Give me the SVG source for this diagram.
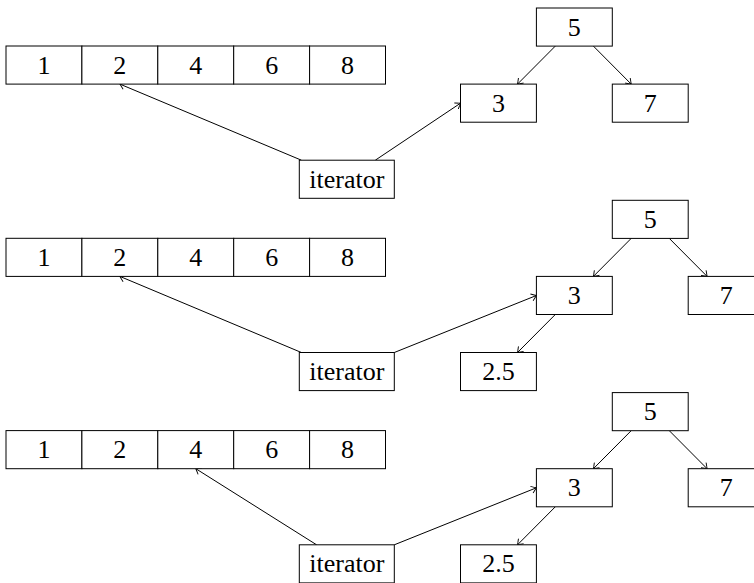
<svg xmlns="http://www.w3.org/2000/svg" width="754" height="583" viewBox="0 0 754 583">
  <style>
    .box { fill: #fff; stroke: #000; stroke-width: 1; }
    text { font-family: 'Liberation Serif', 'Times New Roman', serif; font-size: 26px; text-anchor: middle; fill: #000; }
    .edge { fill: none; stroke: #000; stroke-width: 1; marker-end: url(#tip); }
  </style>
  <defs>
    <marker id="tip" markerUnits="userSpaceOnUse" viewBox="-8 -5 10 10" refX="0" refY="0" markerWidth="10" markerHeight="10" orient="auto">
      <path d="M -5,-3.6 Q -1.2,-0.8 0,0 Q -1.2,0.8 -5,3.6" fill="none" stroke="#000" stroke-width="0.9"/>
    </marker>
  </defs>
  <rect width="754" height="583" fill="#fff"/>

  <!-- connectors -->
  <g id="connectors">
    <!-- row 1 -->
    <line class="edge" x1="555.3" y1="46.1" x2="517.5" y2="84.1"/>
    <line class="edge" x1="593.4" y1="46.1" x2="631.2" y2="84.1"/>
    <line class="edge" x1="301.4" y1="160.2" x2="119.9" y2="84.1"/>
    <line class="edge" x1="375.3" y1="160.2" x2="460.5" y2="103.2"/>
    <!-- row 2 -->
    <line class="edge" x1="631.2" y1="238.4" x2="593.4" y2="276.4"/>
    <line class="edge" x1="669.3" y1="238.4" x2="707.1" y2="276.4"/>
    <line class="edge" x1="555.3" y1="314.5" x2="517.5" y2="352.5"/>
    <line class="edge" x1="301.4" y1="352.5" x2="119.9" y2="276.4"/>
    <line class="edge" x1="394.3" y1="352.5" x2="536.4" y2="295.5"/>
    <!-- row 3 -->
    <line class="edge" x1="631.2" y1="430.7" x2="593.4" y2="468.7"/>
    <line class="edge" x1="669.3" y1="430.7" x2="707.1" y2="468.7"/>
    <line class="edge" x1="555.3" y1="506.8" x2="517.5" y2="544.8"/>
    <line class="edge" x1="316.6" y1="544.8" x2="195.8" y2="468.7"/>
    <line class="edge" x1="394.3" y1="544.8" x2="536.4" y2="487.8"/>
  </g>

  <!-- row 1: array -->
  <g id="r1-a1"><rect class="box" x="6" y="46" width="75.9" height="38.1"/><text x="43.95" y="73.6">1</text></g>
  <g id="r1-a2"><rect class="box" x="81.9" y="46" width="75.9" height="38.1"/><text x="119.85" y="73.6">2</text></g>
  <g id="r1-a3"><rect class="box" x="157.8" y="46" width="75.9" height="38.1"/><text x="195.75" y="73.6">4</text></g>
  <g id="r1-a4"><rect class="box" x="233.7" y="46" width="75.9" height="38.1"/><text x="271.65" y="73.6">6</text></g>
  <g id="r1-a5"><rect class="box" x="309.6" y="46" width="75.9" height="38.1"/><text x="347.55" y="73.6">8</text></g>
  <!-- row 1: tree -->
  <g id="r1-t5"><rect class="box" x="536.4" y="8" width="75.9" height="38.1"/><text x="574.35" y="35.6">5</text></g>
  <g id="r1-t3"><rect class="box" x="460.5" y="84.1" width="75.9" height="38.1"/><text x="498.45" y="111.7">3</text></g>
  <g id="r1-t7"><rect class="box" x="612.3" y="84.1" width="75.9" height="38.1"/><text x="650.25" y="111.7">7</text></g>
  <g id="r1-iter"><rect class="box" x="299.3" y="160.2" width="95" height="38.1"/><text x="346.8" y="187.8">iterator</text></g>

  <!-- row 2: array -->
  <g id="r2-a1"><rect class="box" x="6" y="238.3" width="75.9" height="38.1"/><text x="43.95" y="265.9">1</text></g>
  <g id="r2-a2"><rect class="box" x="81.9" y="238.3" width="75.9" height="38.1"/><text x="119.85" y="265.9">2</text></g>
  <g id="r2-a3"><rect class="box" x="157.8" y="238.3" width="75.9" height="38.1"/><text x="195.75" y="265.9">4</text></g>
  <g id="r2-a4"><rect class="box" x="233.7" y="238.3" width="75.9" height="38.1"/><text x="271.65" y="265.9">6</text></g>
  <g id="r2-a5"><rect class="box" x="309.6" y="238.3" width="75.9" height="38.1"/><text x="347.55" y="265.9">8</text></g>
  <!-- row 2: tree -->
  <g id="r2-t5"><rect class="box" x="612.3" y="200.3" width="75.9" height="38.1"/><text x="650.25" y="227.9">5</text></g>
  <g id="r2-t3"><rect class="box" x="536.4" y="276.4" width="75.9" height="38.1"/><text x="574.35" y="304">3</text></g>
  <g id="r2-t7"><rect class="box" x="688.2" y="276.4" width="75.9" height="38.1"/><text x="726.15" y="304">7</text></g>
  <g id="r2-t25"><rect class="box" x="460.5" y="352.5" width="75.9" height="38.1"/><text x="498.45" y="380.1">2.5</text></g>
  <g id="r2-iter"><rect class="box" x="299.3" y="352.5" width="95" height="38.1"/><text x="346.8" y="380.1">iterator</text></g>

  <!-- row 3: array -->
  <g id="r3-a1"><rect class="box" x="6" y="430.6" width="75.9" height="38.1"/><text x="43.95" y="458.2">1</text></g>
  <g id="r3-a2"><rect class="box" x="81.9" y="430.6" width="75.9" height="38.1"/><text x="119.85" y="458.2">2</text></g>
  <g id="r3-a3"><rect class="box" x="157.8" y="430.6" width="75.9" height="38.1"/><text x="195.75" y="458.2">4</text></g>
  <g id="r3-a4"><rect class="box" x="233.7" y="430.6" width="75.9" height="38.1"/><text x="271.65" y="458.2">6</text></g>
  <g id="r3-a5"><rect class="box" x="309.6" y="430.6" width="75.9" height="38.1"/><text x="347.55" y="458.2">8</text></g>
  <!-- row 3: tree -->
  <g id="r3-t5"><rect class="box" x="612.3" y="392.6" width="75.9" height="38.1"/><text x="650.25" y="420.2">5</text></g>
  <g id="r3-t3"><rect class="box" x="536.4" y="468.7" width="75.9" height="38.1"/><text x="574.35" y="496.3">3</text></g>
  <g id="r3-t7"><rect class="box" x="688.2" y="468.7" width="75.9" height="38.1"/><text x="726.15" y="496.3">7</text></g>
  <g id="r3-t25"><rect class="box" x="460.5" y="544.8" width="75.9" height="38.1"/><text x="498.45" y="572.4">2.5</text></g>
  <g id="r3-iter"><rect class="box" x="299.3" y="544.8" width="95" height="38.1"/><text x="346.8" y="572.4">iterator</text></g>
</svg>
